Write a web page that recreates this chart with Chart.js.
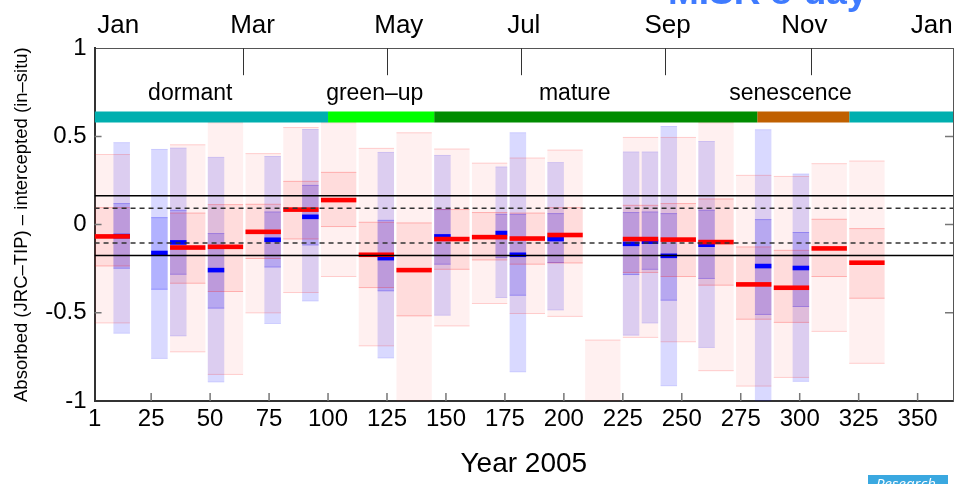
<!DOCTYPE html>
<html>
<head>
<meta charset="utf-8">
<title>MISR 8-day</title>
<script src="https://cdn.jsdelivr.net/npm/chart.js@4.4.1/dist/chart.umd.min.js"></script>
<style>
  html, body { margin: 0; padding: 0; background: #fff; }
  #wrap { position: relative; width: 961px; height: 484px; overflow: hidden; background: #fff; }
  #chart { position: absolute; left: 0; top: 0; }
  #ttl {
    position: absolute; left: 668px; top: -27px;
    font: bold 37px "Liberation Sans", Arial, sans-serif; line-height: 37px;
    color: #3f7bff; white-space: nowrap;
  }
  #badge {
    position: absolute; left: 868px; top: 475px; width: 80px; height: 20px;
    background: #3aa8e0; color: #fff; font: italic 15px "Open Sans", "Liberation Sans", sans-serif;
    line-height: 16px; padding-left: 8px; box-sizing: border-box;
  }
</style>
</head>
<body>
<div id="wrap">
  <canvas id="chart" width="961" height="484"></canvas>
  <div id="ttl">MISR 8-day</div>
  <div id="badge">Research</div>
</div>
<script>
// ---- axes ----
const X_MIN = 1, X_MAX = 365;
const X_TICKS = [1, 25, 50, 75, 100, 125, 150, 175, 200, 225, 250, 275, 300, 325, 350];
const Y_TICKS = [1, 0.5, 0, -0.5, -1];
const MONTH_NAMES = ['Jan', 'Mar', 'May', 'Jul', 'Sep', 'Nov', 'Jan'];
const MONTH_LABEL_DAY = [11, 68, 130, 183, 244, 302, 356];
const MONTH_TICK_DAY = [64, 125, 182, 243, 305];

// ---- phenology phases ----
const PHASE_EDGES = [1, 100, 145, 282, 321, 365];
const PHASE_COLORS = ['#00afaf', '#00ff00', '#008c00', '#c06000', '#00afaf'];
const PHASE_Y = 0.61;
const PHASE_NAMES = ['dormant', 'green–up', 'mature', 'senescence'];
const PHASE_LABEL_DAY = [41.6, 119.8, 204.6, 296.1];
const PHASE_LABEL_Y = 0.745;

// ---- reference lines ----
const REF_SOLID = [0.164, -0.175];
const REF_DASHED = [0.093, -0.105];

// ---- 16-day composites (red) ----
const RED_START = [1, 33, 49, 65, 81, 97, 113, 129, 145, 161, 177, 193, 209, 225, 241, 257, 273, 289, 305, 321];
const RED_END   = [16, 48, 64, 80, 96, 112, 128, 144, 160, 176, 192, 208, 224, 240, 256, 272, 288, 304, 320, 336];
const RED_MED   = [-0.067, -0.13, -0.126, -0.041, 0.085, 0.139, -0.171, -0.258, -0.082, -0.071, -0.079, -0.059, null, -0.082, -0.085, -0.099, -0.339, -0.358, -0.135, -0.216];
const RED_IN_LO = [-0.237, -0.335, -0.382, -0.195, -0.084, -0.014, -0.36, -0.52, -0.256, -0.203, -0.227, -0.22, null, -0.274, -0.297, -0.346, -0.539, -0.557, -0.297, -0.42];
const RED_IN_HI = [0.099, 0.068, 0.116, 0.118, 0.248, 0.299, 0.016, 0.012, 0.088, 0.071, 0.068, 0.099, null, 0.112, 0.122, 0.148, -0.124, -0.143, 0.033, -0.02];
const RED_OUT_LO = [-0.56, -0.724, -0.852, -0.503, -0.388, -0.297, -0.69, -1.05, -0.577, -0.45, -0.507, -0.523, -1.05, -0.642, -0.667, -0.831, -0.918, -0.869, -0.608, -0.789];
const RED_OUT_HI = [0.40, 0.455, 0.58, 0.405, 0.553, 0.58, 0.435, 0.523, 0.431, 0.351, 0.38, 0.425, -0.652, 0.497, 0.497, 0.58, 0.282, 0.276, 0.348, 0.363];

// ---- 8-day composites (blue) ----
const BLUE_START = [9, 25, 33, 49, 73, 89, 121, 145, 171, 177, 193, 225, 233, 241, 257, 281, 297];
const BLUE_END   = [16, 32, 40, 56, 80, 96, 128, 152, 176, 184, 200, 232, 240, 248, 264, 288, 304];
const BLUE_MED   = [-0.065, -0.161, -0.101, -0.258, -0.086, 0.044, -0.19, -0.067, -0.048, -0.171, -0.082, -0.109, -0.097, -0.177, -0.114, -0.235, -0.246];
const BLUE_IN_LO = [-0.25, -0.369, -0.284, -0.476, -0.243, -0.118, -0.378, -0.227, -0.19, -0.403, -0.218, -0.286, -0.256, -0.431, -0.308, -0.512, -0.467];
const BLUE_IN_HI = [0.122, 0.042, 0.084, -0.048, 0.074, 0.225, 0.027, 0.088, 0.061, 0.061, 0.065, 0.071, 0.074, 0.065, 0.084, 0.031, -0.042];
const BLUE_OUT_LO = [-0.618, -0.761, -0.633, -0.894, -0.563, -0.435, -0.758, -0.516, -0.416, -0.837, -0.486, -0.629, -0.56, -0.916, -0.699, -1.05, -0.891];
const BLUE_OUT_HI = [0.467, 0.429, 0.436, 0.384, 0.389, 0.542, 0.412, 0.395, 0.329, 0.523, 0.354, 0.414, 0.414, 0.559, 0.474, 0.54, 0.289];

const FONT = '"Liberation Sans", Arial, Helvetica, sans-serif';
Chart.defaults.font.family = FONT;
Chart.defaults.color = '#000';

const RED = {
  start: RED_START, end: RED_END, med: RED_MED,
  inLo: RED_IN_LO, inHi: RED_IN_HI, outLo: RED_OUT_LO, outHi: RED_OUT_HI,
  outFill: 'rgba(255,0,0,0.06)', inFill: 'rgba(255,0,0,0.085)',
  outEdge: 'rgba(255,0,0,0.16)', inEdge: 'rgba(255,0,0,0.22)', medColor: '#ff0000'
};
const BLUE = {
  start: BLUE_START, end: BLUE_END, med: BLUE_MED,
  inLo: BLUE_IN_LO, inHi: BLUE_IN_HI, outLo: BLUE_OUT_LO, outHi: BLUE_OUT_HI,
  outFill: 'rgba(0,0,255,0.15)', inFill: 'rgba(0,0,255,0.18)',
  outEdge: 'rgba(0,0,255,0.08)', inEdge: 'rgba(0,0,255,0.22)', medColor: '#0000ff'
};

// filled range box with thin lines on its top and bottom
function band(ctx, xs, ys, s, e, lo, hi, fill, edge) {
  if (lo == null || hi == null) return;
  const x0 = xs.getPixelForValue(s), x1 = xs.getPixelForValue(e);
  const y0 = ys.getPixelForValue(hi), y1 = ys.getPixelForValue(lo);
  ctx.fillStyle = fill;
  ctx.fillRect(x0, y0, x1 - x0, y1 - y0);
  ctx.strokeStyle = edge;
  ctx.lineWidth = 1;
  ctx.beginPath();
  ctx.moveTo(x0, y0 + 0.5); ctx.lineTo(x1, y0 + 0.5);
  ctx.moveTo(x0, y1 - 0.5); ctx.lineTo(x1, y1 - 0.5);
  ctx.stroke();
}

function drawBoxes(ctx, xs, ys, d) {
  d.start.forEach((s, i) => {
    band(ctx, xs, ys, s, d.end[i], d.outLo[i], d.outHi[i], d.outFill, d.outEdge);
    band(ctx, xs, ys, s, d.end[i], d.inLo[i], d.inHi[i], d.inFill, d.inEdge);
  });
}

function drawMedians(ctx, xs, ys, d) {
  ctx.fillStyle = d.medColor;
  d.start.forEach((s, i) => {
    if (d.med[i] == null) return;
    const x0 = xs.getPixelForValue(s), x1 = xs.getPixelForValue(d.end[i]);
    const ym = ys.getPixelForValue(d.med[i]);
    ctx.fillRect(x0, ym - 2.3, x1 - x0, 4.6);
  });
}

const boxPlugin = {
  id: 'rangeBoxes',
  beforeDatasetsDraw(chart) {
    const { ctx, chartArea: a, scales: { x, y } } = chart;
    ctx.save();
    ctx.beginPath();
    ctx.rect(a.left, a.top, a.right - a.left, a.bottom - a.top);
    ctx.clip();
    drawBoxes(ctx, x, y, BLUE);
    drawBoxes(ctx, x, y, RED);
    drawMedians(ctx, x, y, BLUE);
    drawMedians(ctx, x, y, RED);
    ctx.restore();
  },
  afterDatasetsDraw(chart) {
    const { ctx, chartArea: a, scales: { x, y } } = chart;
    ctx.save();
    // phase names above the colour bar
    ctx.font = '23px ' + FONT;
    ctx.fillStyle = '#000';
    ctx.textAlign = 'center';
    ctx.textBaseline = 'middle';
    PHASE_NAMES.forEach((t, i) => {
      ctx.fillText(t, x.getPixelForValue(PHASE_LABEL_DAY[i]), y.getPixelForValue(PHASE_LABEL_Y));
    });
    // month ticks hanging from the top frame
    ctx.strokeStyle = '#333';
    ctx.lineWidth = 1;
    ctx.beginPath();
    MONTH_TICK_DAY.forEach(d => {
      const px = Math.round(x.getPixelForValue(d)) + 0.5;
      ctx.moveTo(px, a.top); ctx.lineTo(px, a.top + 27);
    });
    ctx.stroke();
    // inward ticks on left, right and bottom
    ctx.strokeStyle = '#777';
    ctx.lineWidth = 1.5;
    ctx.beginPath();
    Y_TICKS.filter(v => v > -1 && v < 1).forEach(v => {
      const py = y.getPixelForValue(v);
      ctx.moveTo(a.left, py); ctx.lineTo(a.left + 7, py);
      ctx.moveTo(a.right - 8, py); ctx.lineTo(a.right, py);
    });
    X_TICKS.filter(v => v > X_MIN).forEach(v => {
      const px = x.getPixelForValue(v);
      ctx.moveTo(px, a.bottom); ctx.lineTo(px, a.bottom - 8);
    });
    ctx.stroke();
    ctx.restore();
  }
};

const datasets = [];
REF_SOLID.forEach(v => datasets.push({
  data: [{ x: X_MIN, y: v }, { x: X_MAX, y: v }],
  borderColor: '#000', borderWidth: 1.5, pointRadius: 0
}));
REF_DASHED.forEach(v => datasets.push({
  data: [{ x: X_MIN, y: v }, { x: X_MAX, y: v }],
  borderColor: '#333', borderWidth: 1.5, borderDash: [5, 4], pointRadius: 0
}));
PHASE_COLORS.forEach((c, i) => datasets.push({
  data: [{ x: PHASE_EDGES[i], y: PHASE_Y }, { x: PHASE_EDGES[i + 1], y: PHASE_Y }],
  borderColor: c, borderWidth: 11, borderCapStyle: 'butt', pointRadius: 0
}));

new Chart(document.getElementById('chart'), {
  type: 'line',
  data: { datasets },
  plugins: [boxPlugin],
  options: {
    responsive: false,
    animation: false,
    devicePixelRatio: 1,
    layout: { padding: { top: 4, left: 11, right: 8, bottom: 1 } },
    plugins: { legend: { display: false }, tooltip: { enabled: false } },
    scales: {
      x: {
        type: 'linear', position: 'bottom', min: X_MIN, max: X_MAX,
        afterBuildTicks: s => { s.ticks = X_TICKS.map(v => ({ value: v })); },
        ticks: { font: { size: 24 }, color: '#000', padding: 4, maxRotation: 0, autoSkip: false, callback: v => String(v) },
        grid: { display: false, drawTicks: false },
        border: { display: true, color: '#333', width: 2 },
        title: { display: true, text: 'Year 2005', font: { size: 28 }, color: '#000', padding: { top: 9.6, bottom: 2 } }
      },
      xTop: {
        type: 'linear', position: 'top', min: X_MIN, max: X_MAX,
        afterBuildTicks: s => { s.ticks = MONTH_LABEL_DAY.map(v => ({ value: v })); },
        ticks: { font: { size: 26 }, color: '#000', padding: 6.5, maxRotation: 0, autoSkip: false, callback: (v, i) => MONTH_NAMES[i] },
        grid: { display: false, drawTicks: false },
        border: { display: true, color: '#555', width: 1 }
      },
      y: {
        type: 'linear', position: 'left', min: -1, max: 1,
        afterBuildTicks: s => { s.ticks = Y_TICKS.map(v => ({ value: v })); },
        ticks: { font: { size: 24 }, color: '#000', padding: 8, callback: v => String(v) },
        grid: { display: false, drawTicks: false },
        border: { display: true, color: '#333', width: 2 },
        title: { display: true, text: 'Absorbed (JRC–TIP) – intercepted (in–situ)', font: { size: 18.5 }, color: '#000', padding: { top: 0, bottom: 4 } }
      },
      yRight: {
        type: 'linear', position: 'right', min: -1, max: 1,
        ticks: { display: false },
        grid: { display: false, drawTicks: false },
        border: { display: true, color: '#555', width: 1 }
      }
    }
  }
});
</script>
</body>
</html>
